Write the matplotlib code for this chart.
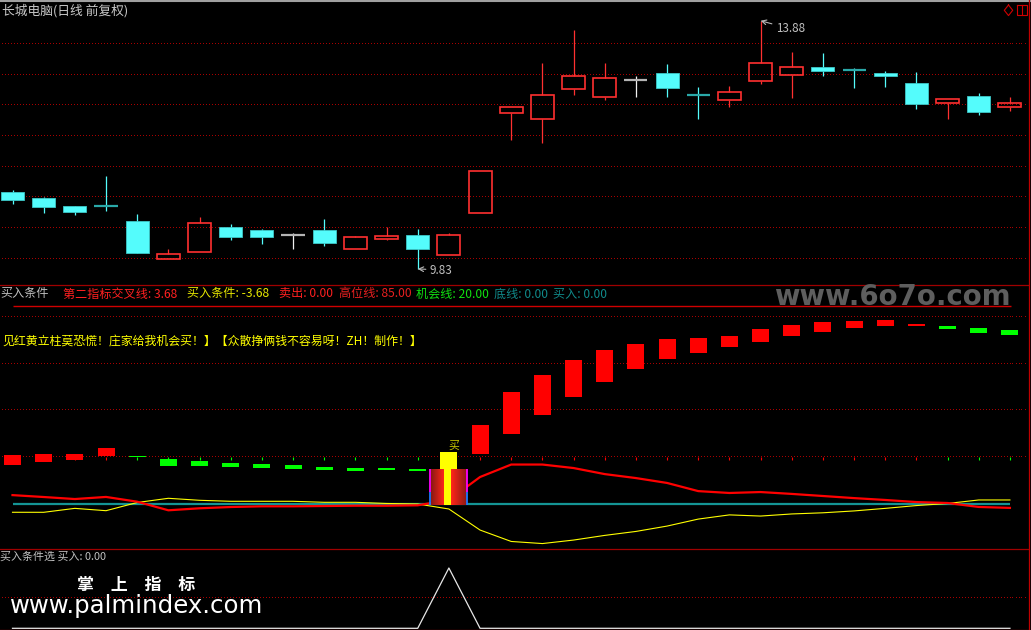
import numpy as np
import matplotlib
matplotlib.use('Agg')
import matplotlib.pyplot as plt
from matplotlib.patches import Rectangle
from matplotlib.lines import Line2D

plt.rcParams['font.family'] = ['Noto Sans CJK SC', 'DejaVu Sans']

W, H = 1031, 630

# ---------------- data ----------------
title = '长城电脑(日线 前复权)'

opens  = [11.09, 10.99, 10.85, 10.85, 10.61, 10.00, 10.10, 10.51, 10.46, 10.38, 10.47,
          10.16, 10.32, 10.39, 10.05, 10.74, 12.37, 12.27, 12.76, 12.64, 12.91, 13.02,
          12.67, 12.58, 12.90, 13.00, 13.13, 13.07, 13.02, 12.87, 12.54, 12.65, 12.47]
highs  = [11.12, 11.01, 10.86, 11.34, 10.72, 10.16, 10.68, 10.56, 10.48, 10.41, 10.65,
          10.37, 10.51, 10.48, 10.41, 11.42, 12.47, 13.19, 13.73, 13.19, 12.98, 13.18,
          12.80, 12.82, 13.88, 13.37, 13.35, 13.11, 13.06, 13.04, 12.61, 12.70, 12.63]
lows   = [10.89, 10.75, 10.71, 10.78, 10.09, 10.00, 10.10, 10.30, 10.23, 10.16, 10.21,
          10.16, 10.31, 9.83, 10.05, 10.74, 11.93, 11.88, 12.66, 12.59, 12.64, 12.64,
          12.27, 12.47, 12.85, 12.62, 12.97, 12.78, 12.80, 12.44, 12.28, 12.34, 12.41]
closes = [10.96, 10.84, 10.76, 10.84, 10.09, 10.08, 10.58, 10.35, 10.35, 10.38, 10.26,
          10.35, 10.37, 10.16, 10.39, 11.42, 12.47, 12.66, 12.97, 12.94, 12.91, 12.79,
          12.66, 12.71, 13.19, 13.13, 13.06, 13.06, 12.97, 12.52, 12.61, 12.39, 12.54]
price_grid = [10.0, 10.5, 11.0, 11.5, 12.0, 12.5, 13.0, 13.5]

# floating sticks of the indicator: drawn from bar_from to bar_to (up = red, down = green)
bar_from = [16.6, 17.9, 18.7, 20.5, 20.5, 19.0, 18.3, 17.5, 17.0, 16.6, 15.7,
            15.3, 15.3, 14.9, 0.0, 21.2, 29.8, 38.2, 45.9, 52.3, 57.8, 62.1,
            64.7, 67.4, 69.4, 71.9, 73.7, 75.4, 76.2, 76.4, 76.2, 75.4, 74.5]
bar_to   = [20.9, 21.3, 21.3, 23.9, 19.9, 16.2, 16.2, 15.6, 15.3, 14.8, 14.5,
            14.0, 14.5, 14.0, 22.2, 33.6, 47.8, 55.3, 61.6, 65.9, 68.5, 70.7,
            71.1, 72.1, 74.9, 76.7, 77.9, 78.4, 78.8, 77.2, 74.9, 73.2, 72.4]
cross_line = [3.68, 2.87, 2.0, 2.9, 0.86, -2.83, -1.97, -1.42, -1.12, -1.12, -0.99,
              -0.86, -0.86, -0.69, 1.59, 11.45, 16.8, 16.8, 15.3, 12.7, 11.0, 8.9,
              5.4, 4.6, 5.0, 4.2, 3.3, 2.4, 1.6, 0.7, 0.3, -1.4, -1.8]
buy_cond = [-3.68, -3.69, -2.0, -3.0, 0.51, 2.32, 1.46, 1.03, 1.03, 1.03, 0.6,
            0.6, 0.1, -0.13, -2.27, -11.3, -16.2, -17.1, -15.6, -13.6, -11.9, -9.6,
            -6.6, -4.8, -5.3, -4.4, -3.9, -3.1, -2.0, -0.8, 0.1, 1.6, 1.6]
buy_signal = [0, 0, 0, 0, 0, 0, 0, 0, 0, 0, 0, 0, 0, 0, 1, 0, 0,
              0, 0, 0, 0, 0, 0, 0, 0, 0, 0, 0, 0, 0, 0, 0, 0]
pillar_top = 14.7
sell_val = 0.00
high_line = 85.0
chance_line = 20.0
base_line = 0.0
ind_grid = [20, 40, 60, 80]
slogan = '见红黄立柱莫恐慌！庄家给我机会买！】【众散挣俩钱不容易呀！ZH！制作！】'

n = len(closes)
x = np.arange(n)

RED = '#ff3030'
CYAN = '#54fcfc'
GRID = '#a80000'
STEP = 31.17          # pixels per bar

fig = plt.figure(figsize=(W / 100, H / 100), dpi=100, facecolor='black')


def fig_rect(top, bottom):
    return [0, 1 - bottom / H, 1028 / W, (bottom - top) / H]


def ftext(px, py, s, **kw):
    kw.setdefault('va', 'center')
    kw.setdefault('ha', 'left')
    return fig.text(px / W, 1 - py / H, s, **kw)


def fline(xs, ys, **kw):
    fig.add_artist(Line2D([v / W for v in xs], [1 - v / H for v in ys],
                          transform=fig.transFigure, **kw))


# dotted grid: one pixel every third pixel, like the terminal draws it
dot_x = (np.arange(1.5, 1027, 3) - 12.5) / STEP


def dotted(ax, y):
    ax.plot(dot_x, np.full(dot_x.size, y), ls='none', marker=',', color=GRID, zorder=1)


xlim = (-12.5 / STEP, (1028 - 12.5) / STEP)

ax1 = fig.add_axes(fig_rect(0, 285))
ax2 = fig.add_axes(fig_rect(286, 548))
ax3 = fig.add_axes(fig_rect(549, 630))
for ax in (ax1, ax2, ax3):
    ax.axis('off')

# ---------------- candles ----------------
for g in price_grid:
    dotted(ax1, g)

bw = 0.74
for i in range(n):
    o, h, l, c = opens[i], highs[i], lows[i], closes[i]
    if abs(c - o) < 0.015:
        col = '#b4b4b4' if c == o else '#2aa8a8'
        wick = '#f0f0f0' if c == o else CYAN
        ax1.vlines(i, l, h, color=wick, lw=0.9, zorder=2)
        ax1.hlines(o, i - bw / 2, i + bw / 2, color=col, lw=1.6, zorder=3)
    elif c > o:
        ax1.vlines(i, c, h, color=RED, lw=0.9, zorder=2)
        ax1.vlines(i, l, o, color=RED, lw=0.9, zorder=2)
        ax1.add_patch(Rectangle((i - bw / 2, o), bw, c - o, fill=False,
                                ec=RED, lw=1.2, zorder=3))
    else:
        ax1.vlines(i, l, h, color=CYAN, lw=0.9, zorder=2)
        ax1.add_patch(Rectangle((i - bw / 2, c), bw, o - c, fc=CYAN,
                                ec='#3cc8c8', lw=0.6, zorder=3))

ax1.set_xlim(*xlim)
ax1.set_ylim(10.0 - 26.5 / 61.286, 13.5 + 44 / 61.286)

ihi = int(np.argmax(highs))
ilo = int(np.argmin(lows))
arrow = dict(arrowstyle='->', color='#b8b8b8', lw=0.8, shrinkA=1, shrinkB=0)
ax1.annotate(f'{highs[ihi]:.2f}', xy=(ihi, highs[ihi]), xytext=(776, H - 29),
             textcoords='figure pixels', color='#c0c0c0', fontsize=8.4,
             va='center', ha='left', arrowprops=arrow)
ax1.annotate(f'{lows[ilo]:.2f}', xy=(ilo, lows[ilo]), xytext=(430, H - 270),
             textcoords='figure pixels', color='#c0c0c0', fontsize=8.4,
             va='center', ha='left', arrowprops=arrow)

# ---------------- indicator panel ----------------
for g in ind_grid:
    dotted(ax2, g)
ax2.hlines(high_line, 0, n - 1 + 0.03, color='#d00000', lw=1.0, zorder=2)
ax2.hlines(base_line, 0, n - 1, color='#149494', lw=1.6, zorder=2)

sw = 0.545
for i in range(n):
    if buy_signal[i]:
        continue
    lo, hi = sorted((bar_from[i], bar_to[i]))
    col = '#ff0000' if bar_to[i] > bar_from[i] else '#00ff00'
    ax2.add_patch(Rectangle((i - sw / 2, lo), sw, hi - lo, fc=col, ec='none', zorder=3))
    ax2.vlines(i, chance_line - 1.3, chance_line, color=col, lw=0.8, zorder=2)

ax2.plot(x, buy_cond, color='#ffff00', lw=0.8, zorder=4)
ax2.plot(x, cross_line, color='#ff0000', lw=1.6, zorder=4)

# red/yellow pillar at the buy signal
for i in np.flatnonzero(buy_signal):
    ax2.add_patch(Rectangle((i - sw / 2, bar_from[i]), sw, bar_to[i] - bar_from[i],
                            fc='#ffff00', ec='none', zorder=5))
    half = 19.5 / STEP
    cols = 37
    xs = np.linspace(0, 1, cols)
    grad = np.zeros((1, cols, 3))
    dark = np.array([0.55, 0.10, 0.08])
    bright = np.array([1.0, 0.15, 0.10])
    for k, t in enumerate(xs):
        if 0.35 <= t <= 0.58:
            grad[0, k] = [1.0, 1.0, 0.0]
        elif t < 0.35:
            grad[0, k] = dark + (bright - dark) * (t / 0.35)
        else:
            grad[0, k] = bright + (dark - bright) * ((t - 0.58) / 0.42)
    ax2.imshow(grad, extent=[i - half + 0.05, i + half - 0.05, -0.6, pillar_top],
               aspect='auto', interpolation='nearest', zorder=6)
    for ex in (i - half + 0.03, i + half - 0.03):
        ax2.vlines(ex, -0.6, 5.0, color='#1e78ff', lw=1.3, zorder=7)
        ax2.vlines(ex, 5.0, pillar_top, color='#ff00ff', lw=1.3, zorder=7)
    ax2.text(i + 0.15, bar_to[i] + 2.6, '买', color='#cccc00', fontsize=7.8,
             ha='center', va='center', zorder=8)

ax2.set_xlim(*xlim)
ax2.set_ylim((503.7 - 548) / 2.331, (503.7 - 286) / 2.331)

# ---------------- bottom panel ----------------
dotted(ax3, 0.5)
ax3.plot(x, buy_signal, color='#e8e8e8', lw=0.9, zorder=3)
ax3.set_xlim(*xlim)
ax3.set_ylim((628.3 - 630) / 60.3, (628.3 - 549) / 60.3)

# ---------------- frame lines ----------------
fline([0, W], [0.8, 0.8], color='#a0a0a0', lw=1.5)
fline([0, 1028], [285.5, 285.5], color='#a00000', lw=0.9)
fline([0, 1028], [548.5, 548.5], color='#a00000', lw=0.9)
fline([0, 1028], [629.5, 629.5], color='#b00000', lw=0.9)
fline([1028.5, 1028.5], [0, H], color='#c00000', lw=0.9)
fline([1008.5, 1012.7, 1008.5, 1004.3, 1008.5], [5, 10.3, 15.6, 10.3, 5], color='#d00000', lw=0.8)
fline([1017.3, 1026.7, 1026.7, 1017.3, 1017.3], [5, 5, 14.7, 14.7, 5], color='#d00000', lw=0.8)
fline([1022, 1022], [5, 14.7], color='#d00000', lw=0.8)

# ---------------- texts ----------------
ftext(2, 11, title, color='#c8c8c8', fontsize=9.2)

legend = [
    (0, '买入条件', '#c0c0c0'),
    (63, f'第二指标交叉线: {cross_line[0]:.2f}', '#ff2020'),
    (187, f'买入条件: {buy_cond[0]:.2f}', '#e6e600'),
    (279, f'卖出: {sell_val:.2f}', '#ff2020'),
    (339, f'高位线: {high_line:.2f}', '#e82020'),
    (416, f'机会线: {chance_line:.2f}', '#10e010'),
    (494, f'底线: {base_line:.2f}', '#108a8a'),
    (553, f'买入: {buy_signal[-1]:.2f}', '#108a8a'),
]
for px, s, col in legend:
    ftext(px, 294, s, color=col, fontsize=8.7)

ftext(774, 304.5, 'www.6o7o.com', color='#5e5e5e', fontsize=19.9,
      fontweight='bold', family='DejaVu Sans', va='baseline', zorder=10)

ftext(2, 342, slogan, color='#ffff00', fontsize=8.6)

ftext(0, 557, f'买入条件选 买入: {buy_signal[-1]:.2f}', color='#c0c0c0', fontsize=7.9)
ftext(77, 585, '掌　上　指　标', color='white', fontsize=12.2, fontweight='bold')
ftext(10, 606, 'www.palmindex.com', color='white', fontsize=17.6, family='DejaVu Sans')

fig.savefig('out.png', dpi=100, facecolor='black')
